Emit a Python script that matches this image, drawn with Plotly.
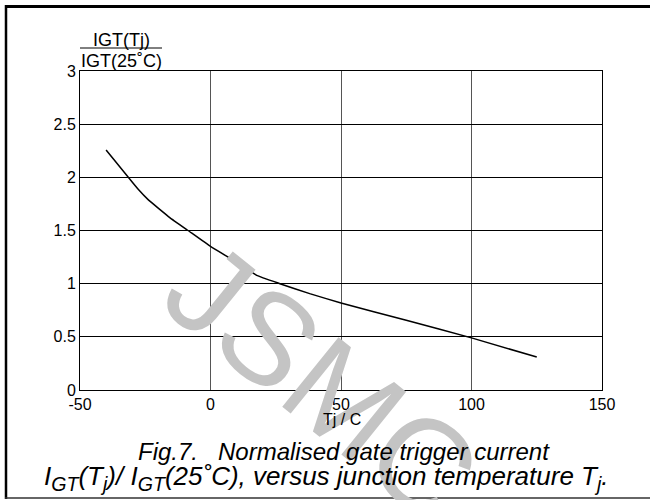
import plotly.graph_objects as go

# Data
tj = [-40, -31.5, -27.7, -23.9, -15.6, -8.6, 0, 8.9, 17.7, 26.6, 38, 50, 75, 100, 125]
igt_ratio = [2.257, 2.0, 1.887, 1.79, 1.622, 1.5, 1.35, 1.218, 1.078, 1.0, 0.906, 0.818, 0.655, 0.49, 0.31]

x_ticks = [-50, 0, 50, 100, 150]
y_ticks = [0, 0.5, 1, 1.5, 2, 2.5, 3]
y_tick_text = ["0", "0.5", "1", "1.5", "2", "2.5", "3"]

W, H = 650, 500
ML, MR, MT, MB = 80, 48, 71, 110
PW, PH = W - ML - MR, H - MT - MB

def px(xp):
    return (xp - ML) / PW

def py(yp):
    return (H - MB - yp) / PH

FONT = "Liberation Sans, Arial, sans-serif"

fig = go.Figure()
fig.add_trace(go.Scatter(x=tj, y=igt_ratio, mode="lines",
                         line=dict(color="black", width=1.5, shape="spline", smoothing=0.3),
                         hoverinfo="skip", showlegend=False))

fig.update_layout(
    width=W, height=H,
    margin=dict(l=ML, r=MR, t=MT, b=MB),
    paper_bgcolor="white", plot_bgcolor="white",
    font=dict(family=FONT, size=16, color="black"),
    xaxis=dict(range=[-50, 150], tickvals=x_ticks, ticktext=[str(v) for v in x_ticks],
               showgrid=True, gridcolor="#555", gridwidth=1, zeroline=False,
               showline=True, linecolor="black", linewidth=1, mirror=True,
               ticks="", ticklen=0, tickfont=dict(size=16)),
    yaxis=dict(range=[0, 3], tickvals=y_ticks, ticktext=y_tick_text,
               showgrid=True, gridcolor="black", gridwidth=1, zeroline=False,
               showline=True, linecolor="black", linewidth=1, mirror=True,
               ticks="", ticklen=0, tickfont=dict(size=16)),
)

def ann(text, x, y, size, **kw):
    d = dict(text=text, x=px(x), y=py(y), xref="paper", yref="paper",
             xanchor="center", yanchor="middle", showarrow=False,
             font=dict(size=size, family=FONT, color=kw.pop("color", "black")))
    d.update(kw)
    return d

SUB = "<span style='font-size:28px'><sub>{}</sub></span>"

annotations = [
    # watermark
    ann("JSMC", 322, 381, 130, color="#c4c4c4", textangle=39),
    # y axis title as fraction
    ann("IGT(Tj)", 121, 40, 18),
    ann("IGT(25˚C)", 121, 61, 18),
    # x axis title
    ann("Tj / C", 342, 419, 16),
    # caption
    ann("<i>Fig.7.   Normalised gate trigger current</i>", 344, 451, 24),
    ann("<i>I" + SUB.format("GT") + "(T" + SUB.format("j") + ")/ I" + SUB.format("GT")
        + "(25˚C), versus junction temperature T" + SUB.format("j") + ".</i>",
        326, 478, 26),
]
fig.update_layout(annotations=annotations)

shapes = [
    dict(type="line", xref="paper", yref="paper", x0=px(80), x1=px(162), y0=py(48), y1=py(48),
         line=dict(color="black", width=1)),
    # outer frame
    dict(type="line", xref="paper", yref="paper", x0=px(6), x1=px(6), y0=py(5), y1=py(499),
         line=dict(color="black", width=2.5)),
    dict(type="line", xref="paper", yref="paper", x0=px(5), x1=px(651), y0=py(6.5), y1=py(6.5),
         line=dict(color="black", width=3)),
    dict(type="line", xref="paper", yref="paper", x0=px(5), x1=px(651), y0=py(498), y1=py(498),
         line=dict(color="#333", width=1.5)),
]
fig.update_layout(shapes=shapes)

fig.write_html("out.html", config={"displayModeBar": False},
               post_script="document.body.style.margin='0';")
